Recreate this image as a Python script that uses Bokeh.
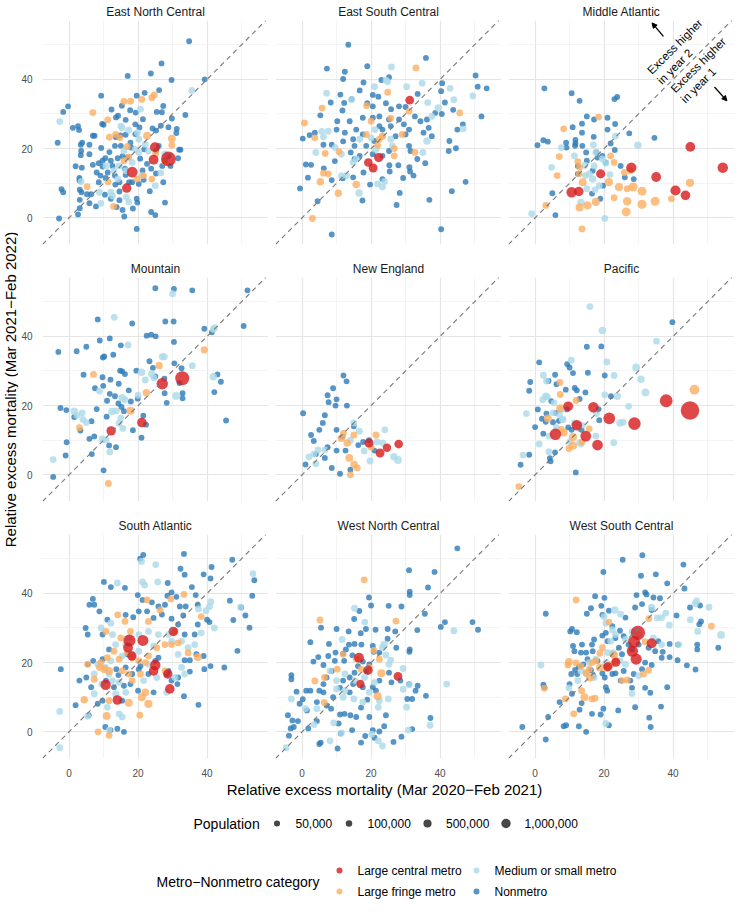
import math
from bokeh.plotting import figure
from bokeh.layouts import gridplot, column, row
from bokeh.models import (Range1d, LinearAxis, Grid, FixedTicker, Slope, Label,
                          Arrow, NormalHead, ColumnDataSource)
from bokeh.embed import file_html
from bokeh.resources import INLINE
from bokeh.core.properties import value

# ---------------------------------------------------------------- data
REGIONS = ["East North Central", "East South Central", "Middle Atlantic",
           "Mountain", "New England", "Pacific",
           "South Atlantic", "West North Central", "West South Central"]
CATEGORIES = ["Large central metro", "Large fringe metro",
              "Medium or small metro", "Nonmetro"]
COLORS = ["#d7191c", "#fdae61", "#abd9e9", "#2c7bb6"]
DEFAULT_POP = [1000000, 150000, 150000, 25000]
POP_BREAKS = [50000, 100000, 500000, 1000000]
MAJOR_TICKS = [0, 20, 40]
MINOR_TICKS = [-10, 10, 30, 50]
X_TITLE = "Relative excess mortality (Mar 2020\u2212Feb 2021)"
Y_TITLE = "Relative excess mortality (Mar 2021\u2212Feb 2022)"
POP_TITLE = "Population"
CAT_TITLE = "Metro\u2212Nonmetro category"
NOTE_LINES = ["Excess higher", "in year 2", "Excess higher", "in year 1"]

# (x = year-1 excess, y = year-2 excess [, population])
ENC_CENTRAL = [(28.8, 17, 5200000), (24.5, 16.8, 1200000), (24.9, 20.4, 1300000),
               (18.3, 13.2, 1750000), (16.7, 8.6, 1000000)]
ENC_FRINGE = [(6.9, 30.4), (15.9, 33.6), (17.8, 33.7), (21.1, 34.2), (24, 34.7), (24.7, 35.5),
              (11.2, 28.3), (11.7, 23.3), (13.5, 24.1), (14.7, 23.1), (22.6, 23.7, 400000),
              (29.8, 22.9, 400000), (29.8, 21), (16.9, 20.6), (17.3, 17.5), (15.9, 16.5),
              (25.1, 18.6), (11.3, 10.4), (5.2, 9), (21.6, 12.2), (19.7, 11.2), (27.8, 16.2),
              (24, 11.2), (12.9, 3.3)]
ENC_MEDIUM = [(-2.7, 27.8), (35.6, 36.8), (20.7, 31.4), (19.8, 24.6), (15.4, 26), (15, 26.5),
              (17.3, 25.3), (20.2, 22.7), (22.1, 21.2), (19.2, 19.8), (20.2, 18.9), (23, 19.3),
              (15.9, 19.3), (14.5, 15), (13, 13.6), (16.4, 13.6), (18.3, 16), (14.1, 11.2),
              (12.1, 7.4), (12.6, 6.3), (9.2, 4.2), (16.6, 6), (17.3, 4.6), (25, 9.3),
              (26.6, 13), (27.8, 18.4, 300000), (21.1, 12.2), (10.7, 15), (3.5, 10.5), (8.8, 7.4)]
ENC_NONMETRO = [(34.8, 51), (26.8, 44.6), (17, 41), (23.7, 41.7), (29.7, 39.8), (39.3, 40),
                (9.3, 35.3), (26.1, 36.9), (21.9, 36.1), (19.6, 35.3), (15.3, 32.4), (12.3, 31.3),
                (-0.3, 32.2), (-1.7, 30.6), (1.1, 26), (2.6, 26.5), (2.9, 25.4), (-3.3, 21.7),
                (7.4, 23.7), (9.6, 27.1), (10, 26.9), (17.7, 31.1), (19.3, 30.4), (21.4, 28.5),
                (16.4, 28.3), (13.6, 29), (14.2, 29.5), (25.4, 30.6), (26.9, 30.5), (27.3, 32.3),
                (33.7, 29.7), (29.8, 28.7), (31.2, 25.7), (31.1, 24.5), (28.8, 26.2), (26.6, 26.6),
                (25.2, 25.2), (24.2, 25.8), (31.9, 19.7), (32.3, 19.7), (31.6, 17.2), (28.8, 17.8),
                (27.8, 16.5), (27.3, 10.3), (27.8, 4.4), (25, 0.8), (23.8, 1.7), (19.6, 5.5),
                (19.8, 4.4), (19.6, -3.2), (16, 0.4), (18.5, 2.7), (15.5, 2.3), (14.6, 5.1),
                (12.1, 5.5), (10.4, 6.7), (7.8, 3.3), (5.9, 4.2), (3.1, 5.2), (3.1, 2.8), (2.6, 1),
                (-2.9, -0.2), (-2.2, 8.3), (-1.7, 7.4), (3.1, 8.1), (3.6, 7.4), (5.2, 6.8),
                (3, 11.5), (3, 10.8), (3.7, 14.5), (1.9, 14.9), (3.4, 18.1), (3.5, 19.3),
                (3.4, 21.1), (3.8, 21.7), (5.9, 21.1), (5.9, 18.4), (6.9, 15.3), (8.6, 15.8),
                (9.3, 20.2), (9.7, 14.8), (8, 13.1), (9.1, 12.2), (10.6, 11.5), (8.6, 10.3),
                (13.3, 12.2), (13.4, 9.6), (14.6, 10.3), (16.4, 12.4), (18.3, 10.3), (20.2, 9.8),
                (21.6, 11), (23.4, 7.7), (23.8, 14.2), (25.2, 12.8), (22.6, 15.6), (21.3, 13.7),
                (20.6, 17.1), (17, 17.5), (15.5, 17.8), (14.1, 17.2), (13.3, 20.8), (11.7, 19),
                (12.1, 16.5), (10.5, 17.2), (9.7, 16.5), (14.9, 23.8), (13.6, 23.3), (16.4, 24),
                (19.2, 24.2), (20.4, 26.1), (19.2, 27), (26, 20.8), (25.2, 19.3), (21.8, 19.8),
                (15, 20.8), (18, 20.3), (17.8, 21.7), (6.9, 23.7), (12.6, 15), (11.2, 13.1),
                (16.2, 14.2), (27, 15), (29.4, 15), (17.4, 10.3), (14.6, 7.6), (13.8, 3.1), (6.4, 6.8)]

ESC_CENTRAL = [(31.2, 34, 700000), (22.2, 17.4, 930000), (19.2, 16, 660000), (20.6, 14.4, 770000)]
ESC_FRINGE = [(33, 43.3), (24.8, 36.3), (25.7, 28.8), (18.7, 32.4), (5.8, 31.7), (0.7, 27.4),
              (3.7, 23.1), (6.7, 18.6), (10.7, 19.1), (20, 27.9), (22.4, 22.7), (21.9, 21),
              (23.3, 23.6), (26.7, 20), (26.7, 17.9), (29, 24.1), (32.7, 18.9), (45.7, 30.3),
              (6.2, 12.9), (7.6, 12.7), (5.3, 10.4, 300000), (15.7, 9.6, 300000), (10.5, 7.1, 250000),
              (3, -0.2), (31, 30.8), (18.6, 24.1)]
ESC_MEDIUM = [(25.9, 43.6), (24.8, 39.3), (24.3, 39.8), (7.1, 36), (14.3, 34.1), (21, 37.9),
              (30.3, 37.9), (34.8, 38.9), (42.9, 37.4), (44, 34.1), (49.5, 35.2), (46.7, 25.7),
              (36.4, 33.3), (39.5, 31.7, 300000), (37.6, 29.3), (36.2, 22.2, 300000), (35, 18.9),
              (21.1, 25.5), (23.3, 23.6), (25.7, 22.7), (5.7, 25), (7.6, 25), (6.2, 23.4), (4, 18.9),
              (11.4, 18.4), (16.7, 22.7), (14.8, 16), (15.7, 17), (12.9, 12.2), (11.4, 12.2),
              (16.5, 7.2, 300000), (21.9, 9.8), (23.9, 10.5), (23.3, 8.9), (26.2, 20.8),
              (21.4, 19.8, 300000), (20, 23.1), (9.6, 20.3)]
ESC_NONMETRO = [(13.4, 50), (7.2, 43.1), (18.9, 43.8), (12.4, 42.2), (11.9, 40.1), (35.9, 46.2),
                (50.3, 41.1), (50.9, 37.9), (53.5, 37.4), (52, 29.3), (40.6, 38.9), (40.3, 36.6),
                (33.5, 35.8), (41.4, 33.3), (43.8, 31.2), (45, 25.5), (46.6, 27), (42.7, 22.2),
                (44.6, 20.1), (42.5, 19.3), (40.5, 30), (47.4, 10.4), (43.4, 7.7), (40.3, -3.3),
                (36.9, 5.2), (35.7, 15.8), (33.4, 17), (31.1, 14.6), (32.3, 12.2), (31.3, 13.4),
                (31.4, 19.3), (27.9, 15.2), (29.3, 11.5), (25.3, 15.2), (25.4, 13.4), (28.3, 7.2),
                (27.4, 3.7), (23.3, 11.2), (19.7, 9.6), (17.5, 5), (17.8, 13.1), (14.8, 11.7),
                (11.8, 11.4), (8.6, 10.9), (4.5, 4.8), (-0.6, 8.5), (1.7, 11.6), (1.1, 15.4),
                (2.6, 15.3), (6.3, 14.3), (9.5, 16.4), (14.1, 18.9), (15.2, 20.8), (11.9, 22.1),
                (8.6, 21.1), (6.2, 21.1), (0.2, 22.9), (2.2, 23.9), (3.7, 24.6), (5.3, 29.6),
                (8.3, 33.3), (11.1, 35.6), (12.2, 33.2), (11.7, 31), (10.2, 27.9), (14.4, 34.3),
                (16.7, 36.8), (17.8, 39.1), (20.5, 35.5), (23, 39.8), (25.2, 40.6), (22.1, 35),
                (24.3, 33.1), (25.8, 31.4), (20.5, 32.2), (18.9, 33.1), (17.6, 28.9), (20.5, 28.9),
                (22.4, 29.3), (25.2, 28.4), (28.1, 28.4), (29.5, 27), (31, 25.5), (32.7, 29.3),
                (34.3, 27.9), (36.7, 26), (37.6, 23.6), (35.2, 24.6), (38.6, 30.3), (36.2, 28.4),
                (30, 32), (28.1, 32.2), (23.3, 25.5), (25.7, 26.5), (22.4, 26.5), (15.7, 25.5),
                (13.8, 27.9), (12.4, 24.6), (10, 25.5), (17.6, 24.1), (14.8, 22.7), (18.6, 20.8),
                (21, 22.2), (27.1, 23.6), (30, 24.1), (31, 20.8), (15.2, 17), (16.7, 17.9),
                (20.5, 18.4), (23.3, 17.9), (25.2, 19.3), (8.6, -4.8)]

MA_CENTRAL = [(45, 20.5, 1200000), (54.4, 14.5, 1600000), (27.9, 14.5, 1500000),
              (35.1, 11.8, 1200000), (40.7, 7.9, 1400000), (43.6, 6.5, 1100000),
              (10.6, 7.4, 1600000), (12.7, 7.6, 1000000), (19, 12.7, 900000)]
MA_FRINGE = [(18.4, 29.1), (8.3, 25.7), (7, 17.7), (6.4, 12.2), (3.1, 3.6), (12.4, 16.2),
             (12.9, 14.6), (12.8, 12.7), (13.8, 10.3, 400000), (21.9, 17.9), (22.9, 16),
             (25.9, 13.1), (21.4, 10.3, 500000), (24.3, 8.9, 500000), (26.7, 8.4),
             (28.4, 8.9, 900000), (31, 7.7, 800000), (22.9, 5.8), (26.7, 4.8, 600000),
             (26.4, 1.7, 800000), (31, 3.9, 900000), (34.8, 4.8, 800000), (39.5, 5.5),
             (44.9, 10.1, 500000), (17.6, 4.6, 500000), (15.2, 3.6, 600000), (12.9, 3, 500000),
             (13.6, -3.2), (27.6, 13.6)]
MA_MEDIUM = [(-1, 1.2), (4.8, 14.6), (7.6, 20.3), (11.4, 17.9), (16.9, 21.1), (17.6, 18.9),
             (19.5, 17), (20.5, 15.8), (21.7, 12.5), (23.3, 23.6), (29.8, 21, 300000),
             (14.6, 12.2), (16.7, 11.2, 300000), (18.6, 9.3), (17.4, 8.1), (15, 8.4),
             (13.3, 4.4, 300000), (20.2, -0.2), (14.4, 15.2), (17.1, 15), (15.7, 12.7)]
MA_NONMETRO = [(2.7, 37.4), (10.6, 36), (12.9, 33.8), (23, 34.3), (23.8, 34.9), (15, 29.3),
               (17.1, 28.4), (21, 28.9), (23.2, 27.1), (10.9, 26.2), (13.6, 27.2), (13.6, 24.6),
               (17, 23.4), (11.7, 22.5), (11.7, 21.5), (21, 25.5), (27.3, 24.4), (34.6, 23.1),
               (2.4, 22.4), (3.7, 22), (0.7, 21), (9, 21.7), (9.1, 20.3), (13.7, 20.8),
               (14.8, 18.9), (15, 16.5), (17.8, 19), (18.1, 17.4), (19.5, 17.9), (20.5, 16),
               (21.9, 21.5), (23.1, 19.6), (24.8, 15), (28.6, 11.2), (26, 11.7), (12.4, 12.7),
               (16.7, 13.6), (19.7, 9.3), (16.5, 7), (18.9, 5.5), (5, 7.1), (5.9, 0.8),
               (11.6, 20.8), (12.4, 15)]

MTN_CENTRAL = [(32.8, 27.9, 4400000), (27, 26.3, 2200000), (21.1, 15.1, 1100000),
               (12.2, 12.7, 1000000)]
MTN_FRINGE = [(7.1, 29), (26.1, 31.6, 250000), (39.2, 36.1, 250000), (22.4, 23.7, 300000),
              (17.8, 18.5, 500000), (3, 13.6), (11.4, -2.5)]
MTN_MEDIUM = [(30, 52.3), (13.1, 45.5), (17.1, 37.5), (27, 34.1), (27.6, 34.1), (35.7, 31.5),
              (41.8, 42), (42.2, 42.5), (41.8, 28.3, 300000), (21, 29.6, 300000), (24, 29.1, 300000),
              (24.6, 28), (22.1, 27.4), (31, 22.8, 400000), (20, 23), (15.4, 22.3, 300000),
              (16.2, 21.7), (8.8, 24.2), (1.5, 18.4, 300000), (3.8, 17.9), (2.3, 17.2), (4, 16),
              (5, 15.1), (12.4, 18.3, 300000), (13.7, 18.5), (15, 16.4), (14.5, 14.9),
              (15.6, 13.4), (9.7, 10.3, 300000), (10.7, 10.1), (11.8, 6.6), (-4.6, 4.4)]
MTN_NONMETRO = [(25, 53.9), (30.4, 53.7), (35.7, 53.3), (51.7, 53.3), (8.3, 44.9), (18.3, 43.7),
                (27.9, 44.3), (30.3, 44.3), (39.2, 42.2), (41.4, 41.2), (50.6, 43), (22.5, 40.2),
                (23.8, 40.5), (25.1, 40), (30.4, 38.4), (8.9, 38.8), (11.8, 39.4), (15, 37.4),
                (5, 37), (2.2, 35.7), (-3.1, 35.5), (12.8, 34.7), (9.8, 33.9), (10.2, 34.2),
                (14.8, 30.1), (15.4, 29.9), (16.2, 29.1), (4.2, 28.9), (9.7, 28.2), (12, 27.5),
                (14.4, 26.3), (19.5, 30.1), (23.3, 32.8), (24.3, 30.9), (30.5, 32.2), (32.6, 30.8),
                (27.6, 27.8), (25, 28.4), (32, 26.5), (7.5, 25), (9.9, 25.7), (11.8, 23.4),
                (13.3, 22.7), (17.3, 24.4), (17.9, 21.2), (19.9, 22), (27.7, 23.6), (32.9, 23.6),
                (32.9, 22.1), (28.3, 20.8), (43, 29), (44, 26.9), (42.1, 23.9), (45.5, 15.7),
                (-2.5, 19.3), (-0.8, 18.7), (1.5, 16.7), (6.5, 15.5), (8, 19), (11, 21.4),
                (14.3, 20.6), (15.2, 19.6), (15.9, 18.4), (10.9, 16.8), (21.5, 17.1), (22.3, 14.5),
                (18.5, 12.9), (21, 10.7), (7.3, 11.1), (5.9, 10.4), (3.3, 12.8), (-0.7, 9.4),
                (-1, 5.6), (6.6, 6), (11.6, 8.5), (13.6, 8), (10, 1.3), (-4.6, -0.6)]

NE_CENTRAL = [(22.6, 6.3, 800000), (19.4, 9.2, 900000), (24.6, 7.8, 600000), (28, 8.9, 700000)]
NE_FRINGE = [(11.4, 10.6, 300000), (13.1, 9.2, 300000), (15, 11.5), (13.7, 4.9, 400000),
             (15.1, 3, 300000), (21.4, 11.5), (20, 8), (14, 0), (16, 2), (12, 12)]
NE_MEDIUM = [(15, 15), (16.6, 12.6), (18, 6.9), (21.7, 9.5), (23.4, 9.2), (19.7, 4),
             (26.6, 5.2, 300000), (27.8, 4.3, 400000), (4.6, 7.2), (2, 5.2), (4, 3.2), (6.6, 7.2),
             (3.4, 6), (14, 10), (24, 13)]
NE_NONMETRO = [(10, 21.8), (6.6, 17.2), (6, 15), (7.4, 23), (7.7, 21), (9.7, 20), (12, 28.7),
               (12.9, 27), (0.3, 17.8), (5, 13), (3.4, 9.8), (4, 6), (11.7, 11), (10, 13), (10, 7),
               (6.6, 4.9), (16.3, 8.6), (17.7, 9.5), (19.4, 10), (21, 7), (11, 0.3), (2.6, 11.5),
               (7.4, 8), (12.6, 7), (1, 3), (8.6, 2), (14, 1.5), (15, 14), (9, 25), (13, 20)]

PAC_CENTRAL = [(44.9, 18.6, 10000000), (38, 21.4, 3300000), (28.8, 14.8, 3100000),
               (21.5, 16.3, 2400000), (16.9, 19.5, 1600000), (9.6, 19.8, 1200000),
               (12.1, 14.3, 1600000), (14.7, 11.2, 1800000), (18.1, 8.6, 1700000),
               (5.9, 11.7, 2200000)]
PAC_FRINGE = [(46.2, 24.6, 1200000), (7.2, 26.7), (7.3, 23.2), (11.9, 21.5), (7.3, 19.2, 500000),
              (3.7, 16.3, 400000), (8.3, 12.2, 400000), (11, 10.9, 500000), (11, 8.4, 500000),
              (9.8, 7.6), (13.6, 9.5), (15.7, 13.3), (-4.7, -3.4), (7.6, 13.1)]
PAC_MEDIUM = [(15.9, 48.6), (19.5, 41.7, 300000), (35.2, 38.6), (20.8, 32.6), (10.5, 33.1),
              (22.9, 28.7), (29.3, 31, 400000), (30.7, 27.6, 300000), (32, 23.8, 400000),
              (23.8, 22.7, 300000), (20.2, 23.1), (27.1, 19.8), (24.6, 15, 300000), (25.5, 15.2),
              (17.8, 17.7), (12.7, 14.1), (11.4, 15), (13.6, 14.3), (2.4, 28.8), (3.3, 27.1),
              (3.1, 22.7, 300000), (2.2, 21.7), (3.5, 22.5), (5.5, 20.8), (7.6, 18.9), (7.1, 17.4),
              (8.1, 16), (5.2, 17.9), (-2.5, 17.7), (1.2, 8.9), (-3.5, 5.7), (4, 6.7), (10.1, 9.6),
              (12.9, 9.3), (13.3, 8.9), (22.8, 9.3), (17.6, 11.2), (4.1, 11.2), (6.2, 13.6),
              (7.9, 16)]
PAC_NONMETRO = [(39.8, 44.1), (15, 37), (19.2, 37.1), (1.2, 32.5), (9.3, 32), (10, 31), (11, 29.4),
                (15.3, 29.5), (20.2, 28.7), (5.8, 28.9), (-1.4, 26.8), (-1.7, 24.3), (3.9, 27.1),
                (6.2, 26.2), (8.9, 24.6), (11.5, 25.1), (12.1, 24.4), (14.6, 23.8), (12.9, 21.9),
                (22, 22.7), (4.7, 21.3), (0.8, 18.9), (2, 16.2), (3.3, 17.7), (3.1, 15.3),
                (5.2, 15.2), (0, 13.8), (2.4, 11.9), (6.9, 15.6), (9.6, 13.7), (10.6, 13),
                (13.5, 13), (18.6, 15.8), (18.4, 19), (-1.7, 5.8), (-4.2, 2.9), (4.3, 4.8),
                (4.5, 3.9), (5.8, 6.5), (11.8, 0.7), (9.2, 18.9), (6, 17.9)]

SA_CENTRAL = [(17.5, 26.4, 2700000), (21.4, 26.4, 1900000), (17.1, 24.3, 1200000),
              (18.2, 21.9, 1000000), (25, 19.3, 1500000), (28.6, 16.7, 1000000),
              (29.2, 12.4, 1100000), (10.6, 13.6, 1500000), (14, 9.2, 1100000),
              (30.2, 29, 1000000), (24.5, 17.6, 1100000)]
SA_FRINGE = [(14.1, 33.8), (16.2, 31.9), (22.6, 38.1), (26.4, 35.2), (29.5, 38.4), (33.3, 39.7),
             (38.3, 33.3), (10.7, 29), (15, 27.1), (17.8, 29), (23, 31.9), (25.4, 24.3),
             (27.8, 25.2), (29.7, 25.2), (31.6, 25.7), (34.5, 22.8), (37.3, 21.6, 500000),
             (30.7, 29), (13, 23.3), (14.5, 21), (11.1, 21.4), (9.2, 20), (10.2, 18.1, 400000),
             (11.6, 17.6, 400000), (8.8, 18.6), (5.4, 19.5), (7.3, 15.2), (15.4, 17.6),
             (17.3, 16.7), (18.3, 14.8), (20.7, 16.7), (22.1, 20), (23, 21.9), (20.2, 20.5),
             (18.3, 21.4), (16.9, 22.9), (22.1, 11.4, 400000), (21.1, 10, 400000),
             (23, 8.1, 500000), (17.3, 8.4, 500000), (11.6, 9), (10.9, 4.6, 400000),
             (4.4, 9.3, 300000), (8.4, 0), (11.6, -1), (20.5, 4.8), (27.8, 17.6)]
SA_MEDIUM = [(-2.7, 5.9), (-2.7, -4.6), (5.4, 4.5), (25.1, 48.3), (21, 49.2), (14, 43), (21.3, 43.3),
             (21.9, 42.4), (25.7, 43.3), (53.3, 45.7), (49.7, 36), (41.1, 37.6), (40.7, 36.2),
             (39.7, 35), (37.5, 35.5), (42.1, 30), (38.3, 28.6), (9.3, 30), (12.1, 31.4),
             (12.6, 28.1), (13.5, 25.2), (16.4, 25.2), (17.3, 27.1), (20.2, 28.1), (23, 29),
             (25.9, 28.1), (28.8, 28.1), (29.7, 26.2), (32.6, 26.2), (34.5, 24.3), (36.4, 25.2),
             (31.6, 22.4), (32.6, 18.6), (33.5, 16.7), (30.7, 15.7), (28.3, 11.4), (20.2, 23.3),
             (18.3, 22.4), (15.4, 21.9), (12.1, 20.5), (10.5, 18.6), (8.3, 19.5), (7.3, 16.7),
             (9.5, 13.8), (11.6, 16.7), (12.6, 14.8), (14.5, 14.3), (16.4, 11.4), (13.5, 11),
             (11.1, 7.1), (14.5, 5.2), (15.4, 4.3), (11.6, 0.5), (7.3, 11), (23, 19.5),
             (25.4, 15.7), (21.6, 14.8), (24.5, 24.8)]
SA_NONMETRO = [(33.3, 51.4), (20.6, 50), (21.5, 51.1), (47.3, 49.7), (41.3, 47.6), (32.3, 47.1),
               (33.5, 45.4), (39, 45.5), (41, 44.3), (53.7, 43.8), (53.1, 39.3), (10.1, 43.3),
               (12.1, 41.8), (16.2, 41.6), (28.6, 43), (35.6, 41.8), (29.7, 40.3), (28.5, 39.3),
               (6.9, 38.4), (5.9, 36.7), (7.3, 36.7), (8.8, 34.8), (19.9, 39.5), (21.3, 38.1),
               (24, 37.4), (25.9, 36.2), (27.8, 36.7), (31.1, 39), (32.1, 36.2), (33.8, 36.2),
               (33.1, 33.6), (36.7, 39.5), (37.3, 36.7), (40, 32.4), (40.7, 31.7), (46.6, 37.9),
               (49.9, 35.9), (51.1, 33.6), (47.6, 32.3), (52.3, 30.1), (48.8, 23.4), (45, 18.6),
               (41, 19), (39.2, 18.1), (39, 21.9), (36.9, 22.4), (35, 20.7), (33.5, 20.7),
               (35, 17.4), (31.6, 15.7), (31.4, 13.8), (28.3, 16.7), (28.8, 17.6), (25.9, 21.4),
               (25, 20.5), (23, 16.7), (20.7, 19), (20.2, 18.1), (18.3, 16.7), (16.4, 18.6),
               (13.7, 18.1), (10.7, 14.8), (9.7, 9), (8.3, 8.1), (6.4, 12.9), (5, 15.7), (3, 14.8),
               (1.9, 7.7), (-2.4, 18.1), (5.4, 19.5), (7, 20.5), (9.7, 21), (11.1, 32.4),
               (9.7, 28.1), (4.8, 30), (5.4, 28.1), (16.4, 33.8), (18.6, 33.1), (20.2, 34.8),
               (22.6, 34.8), (24.5, 32.9), (26.9, 33.9), (29.7, 32.7), (16.9, 22.4), (11.6, 23.8),
               (15.9, 13.3), (17.8, 13.8), (14.3, 16.4), (13, 12.9), (15.4, 9), (20, 11.9),
               (24.5, 11.4), (33.3, 10.3), (37.5, 7.8), (10.5, 1.4), (14, 0.9), (15.9, 0),
               (5.7, 4.8), (12, 0.5), (29.7, 14.8), (31.6, 31), (33.5, 28.1), (36.4, 28.1),
               (37.3, 31)]

WNC_CENTRAL = [(16.5, 21.4, 1250000), (19.1, 17.8, 1000000), (27.8, 16, 700000),
               (16.9, 13.8, 600000)]
WNC_FRINGE = [(18, 43.9), (5.2, 32.3), (27.2, 32), (11.9, 22.4), (15.7, 21), (10.2, 18.1),
              (6.5, 15.7), (3.7, 14.7), (17.1, 18.1), (19.5, 18.6), (22.4, 21),
              (23, 16.9, 500000), (21.9, 10.3, 500000), (6.4, 8.5), (20.8, 23.5)]
WNC_MEDIUM = [(15.2, 35.7), (18.2, 31.7), (44, 29.2), (11.6, 26.7), (23.8, 25.2, 300000),
              (23.3, 24.3), (24.3, 22.2), (25.7, 20.7), (25.2, 19.5), (29.3, 18.3), (29.3, 12.3),
              (31.1, 13.6), (41.9, 13.8), (37.1, 1.9), (30.8, 0.5), (30.3, 7.1), (22.1, 7.1),
              (25, 9.5), (22.4, 9), (17.6, 8.6), (15, 9.5), (11.9, 10), (10, 12.4), (8.1, 17.6),
              (10, 14.8), (12.4, 16.7), (18.1, 15.7), (21, 14.3), (15.4, 14.8), (4.3, 6.7),
              (1, 6.7), (-3.1, 9.5), (-4.6, -4.6), (3.5, 2.1), (9.2, 2.6), (11.4, -0.3),
              (20.2, -0.7), (22.1, -2.6), (23.3, -4.1), (8.1, -2.6), (12.4, 11.9), (19.5, 11.4)]
WNC_NONMETRO = [(45, 53), (31, 46.7), (38.4, 46.2), (36.5, 41.7), (31.2, 40.5), (31.2, 39.5),
                (19.4, 38.8), (20, 36.5), (25.1, 36.4), (28.8, 36.2), (35.6, 34.1), (41.4, 31.7),
                (40.2, 30.3), (49.4, 31.7), (51, 29.5), (33.4, 29.4), (15.1, 32.6), (16.6, 34.9),
                (5.5, 30.1), (10, 29.7), (13.5, 29), (17, 28.5), (18.5, 29.7), (21.3, 29.5),
                (24.8, 29.7), (27, 29), (27.3, 24.3), (31.1, 23.1), (31.2, 23.8), (24.8, 26.9),
                (20.5, 24.8), (17.2, 25.2), (15.2, 25.4), (13.6, 25.2), (12.7, 23.8), (11.9, 22.6),
                (9.7, 22.9), (7.8, 25.4), (2.4, 25.9), (4.7, 21.6), (3.3, 20.3), (6.2, 19.3),
                (7.6, 21.9), (9.5, 20.5), (12.2, 20.5), (14.6, 22.1), (17.6, 20.3), (19.5, 19.5),
                (20.8, 23.1), (22.4, 22.9), (25.2, 17.1), (25.9, 14.3), (28.5, 14.8), (31, 13.8),
                (32.9, 11.9), (33.5, 13.3), (35.9, 10.4), (31.9, 9.5), (30.5, 9.5), (18.9, 9.3),
                (17.1, 7), (14, 4.8), (12.3, 5.2), (11, 5), (10.6, 2.4), (11.2, -0.5), (8.6, 17.6),
                (7.1, 15.7), (6.2, 13.8), (5, 11.9), (2.4, 11.9), (1.2, 11.9), (-1.6, 11.6),
                (-3.1, 16.4), (-3.1, 15.2), (-0.7, 8.1), (0.2, 9.4), (1.4, 6.2), (-4.1, 4.8),
                (-2.8, 3.3), (-2.4, 1.4), (-1.2, 3.1), (-3.3, 1), (-3.8, -1.1), (5, -3.5),
                (5.4, -3.1), (10.3, -4.8), (14.5, 0.5), (17.1, -3.1), (18.3, -1.2), (20.5, 0.5),
                (22.4, 0.1), (21, -1.7), (23.8, 1.6), (26.5, -2.9), (28.8, -1.4), (31.9, 0.8),
                (37.2, 4), (13.8, 11.4), (11, 12.7), (11.9, 14.8), (13.8, 15.7), (14.8, 13.8),
                (17.6, 12.9), (20.5, 12.9), (21.4, 11.9), (22.4, 14.8), (18.6, 17.6), (15.2, 17.1),
                (16.2, 19), (4.3, 8.6), (7.1, 7.6), (9, 10), (6.2, 11.4), (8.4, 6.7), (4.3, 3.1),
                (1.8, 1), (24.3, 4.8), (19.5, 4.3), (15.7, 4.3)]

WSC_CENTRAL = [(29.8, 28.6, 4700000), (28.7, 26, 2600000), (28.2, 23.3, 2100000),
               (29.3, 21, 2000000), (33.8, 25.6, 1300000), (21.1, 18.8, 800000),
               (23.4, 20.1, 800000)]
WSC_FRINGE = [(11.9, 38.1), (51.1, 30.5), (21.4, 31.7), (18.8, 22.7), (19.5, 24.3),
              (22.9, 22.2, 400000), (23.3, 20.7), (22.1, 19.5), (20.8, 18.4), (18.8, 18.6, 400000),
              (16.5, 20), (13.3, 19), (11.9, 19.9), (9.8, 20.2, 400000), (9.5, 19.3), (17.6, 20.5),
              (15.7, 18.1), (14.8, 17.1), (15.9, 15.7, 400000), (25.2, 14.8), (26.7, 15),
              (31.4, 16.7), (32.9, 17.8), (2.7, 12.6), (8.8, 9.5), (14.3, 10, 400000), (13.5, 11.9),
              (16.5, 9.5), (17.4, 9.7), (11.2, 5.2), (31.9, 26), (33, 32.7)]
WSC_MEDIUM = [(1.7, 19.3), (23.1, 35.2, 300000), (24.8, 34), (33.8, 35.9, 300000), (35.4, 32.9),
              (36.7, 33), (37.9, 34.3), (38.9, 30.8), (41.6, 25.2), (45, 32.4), (46.4, 37),
              (46.8, 37.8), (50.4, 36), (53.9, 28, 400000), (47.1, 29), (36.7, 25.2), (34.3, 27.1),
              (30, 28.1), (28.1, 28.9), (26.2, 26.7), (22.4, 29.5), (20.5, 31.4), (20, 33.3),
              (21.9, 26.2), (23.3, 28.1), (21, 22.9), (22.6, 22.9), (24.6, 20.5), (26.2, 19.5),
              (20.5, 20), (17.6, 21), (15.7, 20), (13.3, 17.6), (12.4, 14.8), (14.8, 16.7),
              (17.1, 15.7), (30, 16.2), (28.1, 11.1), (20.5, 2.4), (9.8, 12.7)]
WSC_NONMETRO = [(25.4, 49.7), (31.1, 51), (43, 48.3), (19.8, 46.2), (30.7, 45.1), (35, 45.5),
                (38.3, 42.9), (43.3, 41.4), (17.4, 39.2), (20.1, 38.7), (29.4, 39.5), (31.9, 40.3),
                (32.3, 39.7), (34.3, 38.8), (36.2, 38.6), (3.1, 34.1), (15, 34.1), (16.2, 35.7),
                (19.2, 36.4), (19.5, 33.8), (21.4, 35), (26.2, 33), (29, 35.9), (31, 36.9),
                (33.8, 35.2), (41, 33.6), (44.9, 35.9), (47.8, 36.5), (48.1, 31.9), (47.6, 31.1),
                (53.1, 24.3), (47, 25.2), (47, 23.8), (41.4, 25.2), (39, 25.4), (37, 23.1),
                (36.7, 21.4), (39, 21.6), (41.3, 20.7), (44, 19.2), (46.5, 18), (38.3, 12.9),
                (33.4, 11.3), (31.9, 12.7), (29, 7.1), (36.5, 7.3), (33.1, 4.1), (33.5, 1.4),
                (28.1, 12.7), (25.7, 17.6), (22.4, 16.7), (20.5, 12.9), (20.9, 11.9), (20.2, 15.7),
                (19.5, 16.9), (16.9, 16.2), (16.2, 17.8), (14, 19.5), (12.7, 18.8), (12.2, 16.7),
                (11.6, 17.9), (10.5, 16.7), (10, 13.8), (10.7, 11), (13.5, 8.3), (12.9, 6.4),
                (16.5, 5.2), (19, 5), (19.8, 6.7), (21.4, 1.9), (24.1, 6.2), (12.7, 1.6), (9, 1.9),
                (8.3, 1.6), (14.8, 0), (3.8, 4.3), (3.1, -2.2), (-3.7, 1.4), (2.4, 13.6),
                (2.7, 12.9), (10.2, 29), (10.7, 29.7), (12.1, 28.8), (11, 24.8), (11.4, 23.3),
                (13.6, 25.2), (16.5, 25.2), (17.1, 26.7), (19.5, 27.8), (20.5, 28.6), (22.4, 30.5),
                (24.6, 29.2), (25.7, 27.6), (23.3, 27.1), (21, 26.2), (24.3, 24.3), (27.1, 25.2),
                (30, 25.2), (32.9, 24.3), (34.8, 23.3), (33.8, 19.3), (31.9, 20), (31, 18.1),
                (28.6, 16.7), (27.6, 14.8), (24.8, 14.8), (23.3, 16.9), (20.5, 19), (18.1, 20.5),
                (15.2, 21), (14.8, 22.9), (13.3, 22.9), (16.7, 23.3), (22.4, 22.4), (25.2, 22.4),
                (28.1, 23.8), (35.7, 26.2), (7.1, 8.6)]

PANEL_DATA = {
    "East North Central": [ENC_CENTRAL, ENC_FRINGE, ENC_MEDIUM, ENC_NONMETRO],
    "East South Central": [ESC_CENTRAL, ESC_FRINGE, ESC_MEDIUM, ESC_NONMETRO],
    "Middle Atlantic": [MA_CENTRAL, MA_FRINGE, MA_MEDIUM, MA_NONMETRO],
    "Mountain": [MTN_CENTRAL, MTN_FRINGE, MTN_MEDIUM, MTN_NONMETRO],
    "New England": [NE_CENTRAL, NE_FRINGE, NE_MEDIUM, NE_NONMETRO],
    "Pacific": [PAC_CENTRAL, PAC_FRINGE, PAC_MEDIUM, PAC_NONMETRO],
    "South Atlantic": [SA_CENTRAL, SA_FRINGE, SA_MEDIUM, SA_NONMETRO],
    "West North Central": [WNC_CENTRAL, WNC_FRINGE, WNC_MEDIUM, WNC_NONMETRO],
    "West South Central": [WSC_CENTRAL, WSC_FRINGE, WSC_MEDIUM, WSC_NONMETRO],
}

# ---------------------------------------------------------------- styling / layout
FONT = "Liberation Sans"
X_RANGE = (-7.7, 57.8)
Y_RANGE = (-7.7, 57.0)
FW, FH = 226, 224
TITLE_H = 20
GAP_B = 13
AXIS_B = 22
ALPHA = 0.8
DRAW_ORDER = [3, 2, 1, 0]
# annotation: start of each rotated (left-aligned) line and the two arrows, in panel data units
NOTE_ANCHORS = [(33.1, 42.1), (36.0, 39.2), (39.9, 36.7), (42.8, 33.8)]
NOTE_ARROWS = [(37.2, 52.4, 33.9, 56.3), (52.0, 37.8, 55.6, 33.8)]


def dot_size(pop):
    return 5.2 + 0.0042 * math.sqrt(pop)


def style_axis(ax):
    ax.axis_line_color = None
    ax.major_tick_line_color = None
    ax.minor_tick_line_color = None
    ax.major_label_text_font_size = "10px"
    ax.major_label_text_color = "#4d4d4d"
    ax.major_label_text_font = FONT
    ax.major_label_standoff = 4


def blank(p):
    p.outline_line_color = None
    p.xgrid.visible = False
    p.ygrid.visible = False


def make_panel(i, name):
    r, c = divmod(i, 3)
    p = figure(frame_width=FW, frame_height=FH,
               x_range=Range1d(*X_RANGE), y_range=Range1d(*Y_RANGE),
               x_axis_location=None, y_axis_location=None,
               output_backend="svg", toolbar_location=None, title=name,
               min_border_left=20 if c == 0 else 7, min_border_right=0,
               min_border_top=0, min_border_bottom=AXIS_B if r == 2 else GAP_B)
    blank(p)
    p.title.align = "center"
    p.title.text_font = FONT
    p.title.text_font_size = "12px"
    p.title.text_font_style = "normal"
    p.title.text_color = "#1a1a1a"
    p.title.standoff = 4
    for dim in (0, 1):
        p.add_layout(Grid(dimension=dim,
                          ticker=FixedTicker(ticks=MAJOR_TICKS, minor_ticks=MINOR_TICKS),
                          grid_line_color="#e5e5e5", grid_line_width=1.2,
                          minor_grid_line_color="#efefef", minor_grid_line_width=0.7))
    if c == 0:
        ax = LinearAxis(ticker=FixedTicker(ticks=MAJOR_TICKS))
        style_axis(ax)
        p.add_layout(ax, "left")
    if r == 2:
        ax = LinearAxis(ticker=FixedTicker(ticks=MAJOR_TICKS))
        style_axis(ax)
        p.add_layout(ax, "below")
    p.add_layout(Slope(gradient=1, y_intercept=0, line_color="#7a7a7a",
                       line_dash="5 4", line_width=1.1))
    groups = PANEL_DATA[name]
    for k in DRAW_ORDER:
        pts = groups[k]
        xs = [pt[0] for pt in pts]
        ys = [pt[1] for pt in pts]
        pops = [pt[2] if len(pt) > 2 else DEFAULT_POP[k] for pt in pts]
        src = ColumnDataSource(dict(x=xs, y=ys, size=[dot_size(v) for v in pops]))
        p.scatter("x", "y", source=src, size="size", fill_color=COLORS[k],
                  fill_alpha=ALPHA, line_color=None)
    if name == "Middle Atlantic":
        for txt, (lx, ly) in zip(NOTE_LINES, NOTE_ANCHORS):
            p.add_layout(Label(x=lx, y=ly, text=txt, angle=math.pi / 4,
                               text_align="left", text_baseline="middle",
                               text_font=FONT, text_font_size="11.5px", text_color="black"))
        for (x0, y0, x1, y1) in NOTE_ARROWS:
            p.add_layout(Arrow(end=NormalHead(size=5, fill_color="black", line_color="black"),
                               x_start=x0, y_start=y0, x_end=x1, y_end=y1,
                               line_color="black", line_width=1.3))
    return p


panels = [make_panel(i, n) for i, n in enumerate(REGIONS)]
grid = gridplot([panels[0:3], panels[3:6], panels[6:9]], toolbar_location=None)

GRID_H = 3 * (TITLE_H + FH) + 2 * GAP_B + AXIS_B
ylab = figure(frame_width=18, frame_height=GRID_H, x_range=Range1d(0, 18),
              y_range=Range1d(GRID_H, 0), x_axis_location=None, y_axis_location=None,
              output_backend="svg", toolbar_location=None, min_border=0)
blank(ylab)
frames_mid = TITLE_H + (3 * FH + 2 * (GAP_B + TITLE_H)) / 2
ylab.text(x=[10], y=[frames_mid], text=[Y_TITLE], angle=math.pi / 2,
          text_align="center", text_baseline="middle", text_font=value(FONT),
          text_font_size="15px", text_color="black")

FOOT_W, FOOT_H = 730, 120
foot = figure(frame_width=FOOT_W, frame_height=FOOT_H, x_range=Range1d(0, FOOT_W),
              y_range=Range1d(FOOT_H, 0), x_axis_location=None, y_axis_location=None,
              output_backend="svg", toolbar_location=None, min_border=0)
blank(foot)
foot.text(x=[384], y=[9], text=[X_TITLE], text_align="center", text_baseline="middle",
          text_font=value(FONT), text_font_size="15px", text_color="black")

# population legend
POP_Y = 43
pop_key_x = [276.5, 348.5, 427.0, 505.5]
foot.text(x=[193], y=[POP_Y], text=[POP_TITLE], text_align="left", text_baseline="middle",
          text_font=value(FONT), text_font_size="14px", text_color="black")
foot.scatter(x=pop_key_x, y=[POP_Y] * 4, size=[dot_size(v) for v in POP_BREAKS],
             fill_color="#474747", line_color=None)
foot.text(x=[v + 18.5 for v in pop_key_x], y=[POP_Y] * 4, text=[f"{v:,}" for v in POP_BREAKS],
          text_align="left", text_baseline="middle", text_font=value(FONT),
          text_font_size="12px", text_color="black")

# category legend
cat_col_x = [339, 476]
cat_row_y = [90, 111]
foot.text(x=[156], y=[101], text=[CAT_TITLE], text_align="left", text_baseline="middle",
          text_font=value(FONT), text_font_size="14px", text_color="black")
kx = [cat_col_x[k // 2] for k in range(4)]
ky = [cat_row_y[k % 2] for k in range(4)]
foot.scatter(x=kx, y=ky, size=6, fill_color=COLORS, fill_alpha=ALPHA, line_color=None)
foot.text(x=[v + 18 for v in kx], y=ky, text=CATEGORIES, text_align="left",
          text_baseline="middle", text_font=value(FONT), text_font_size="12px",
          text_color="black")

layout = column(row(ylab, grid), foot)
open("out.html", "w").write(file_html(layout, INLINE, title="Relative excess mortality"))
